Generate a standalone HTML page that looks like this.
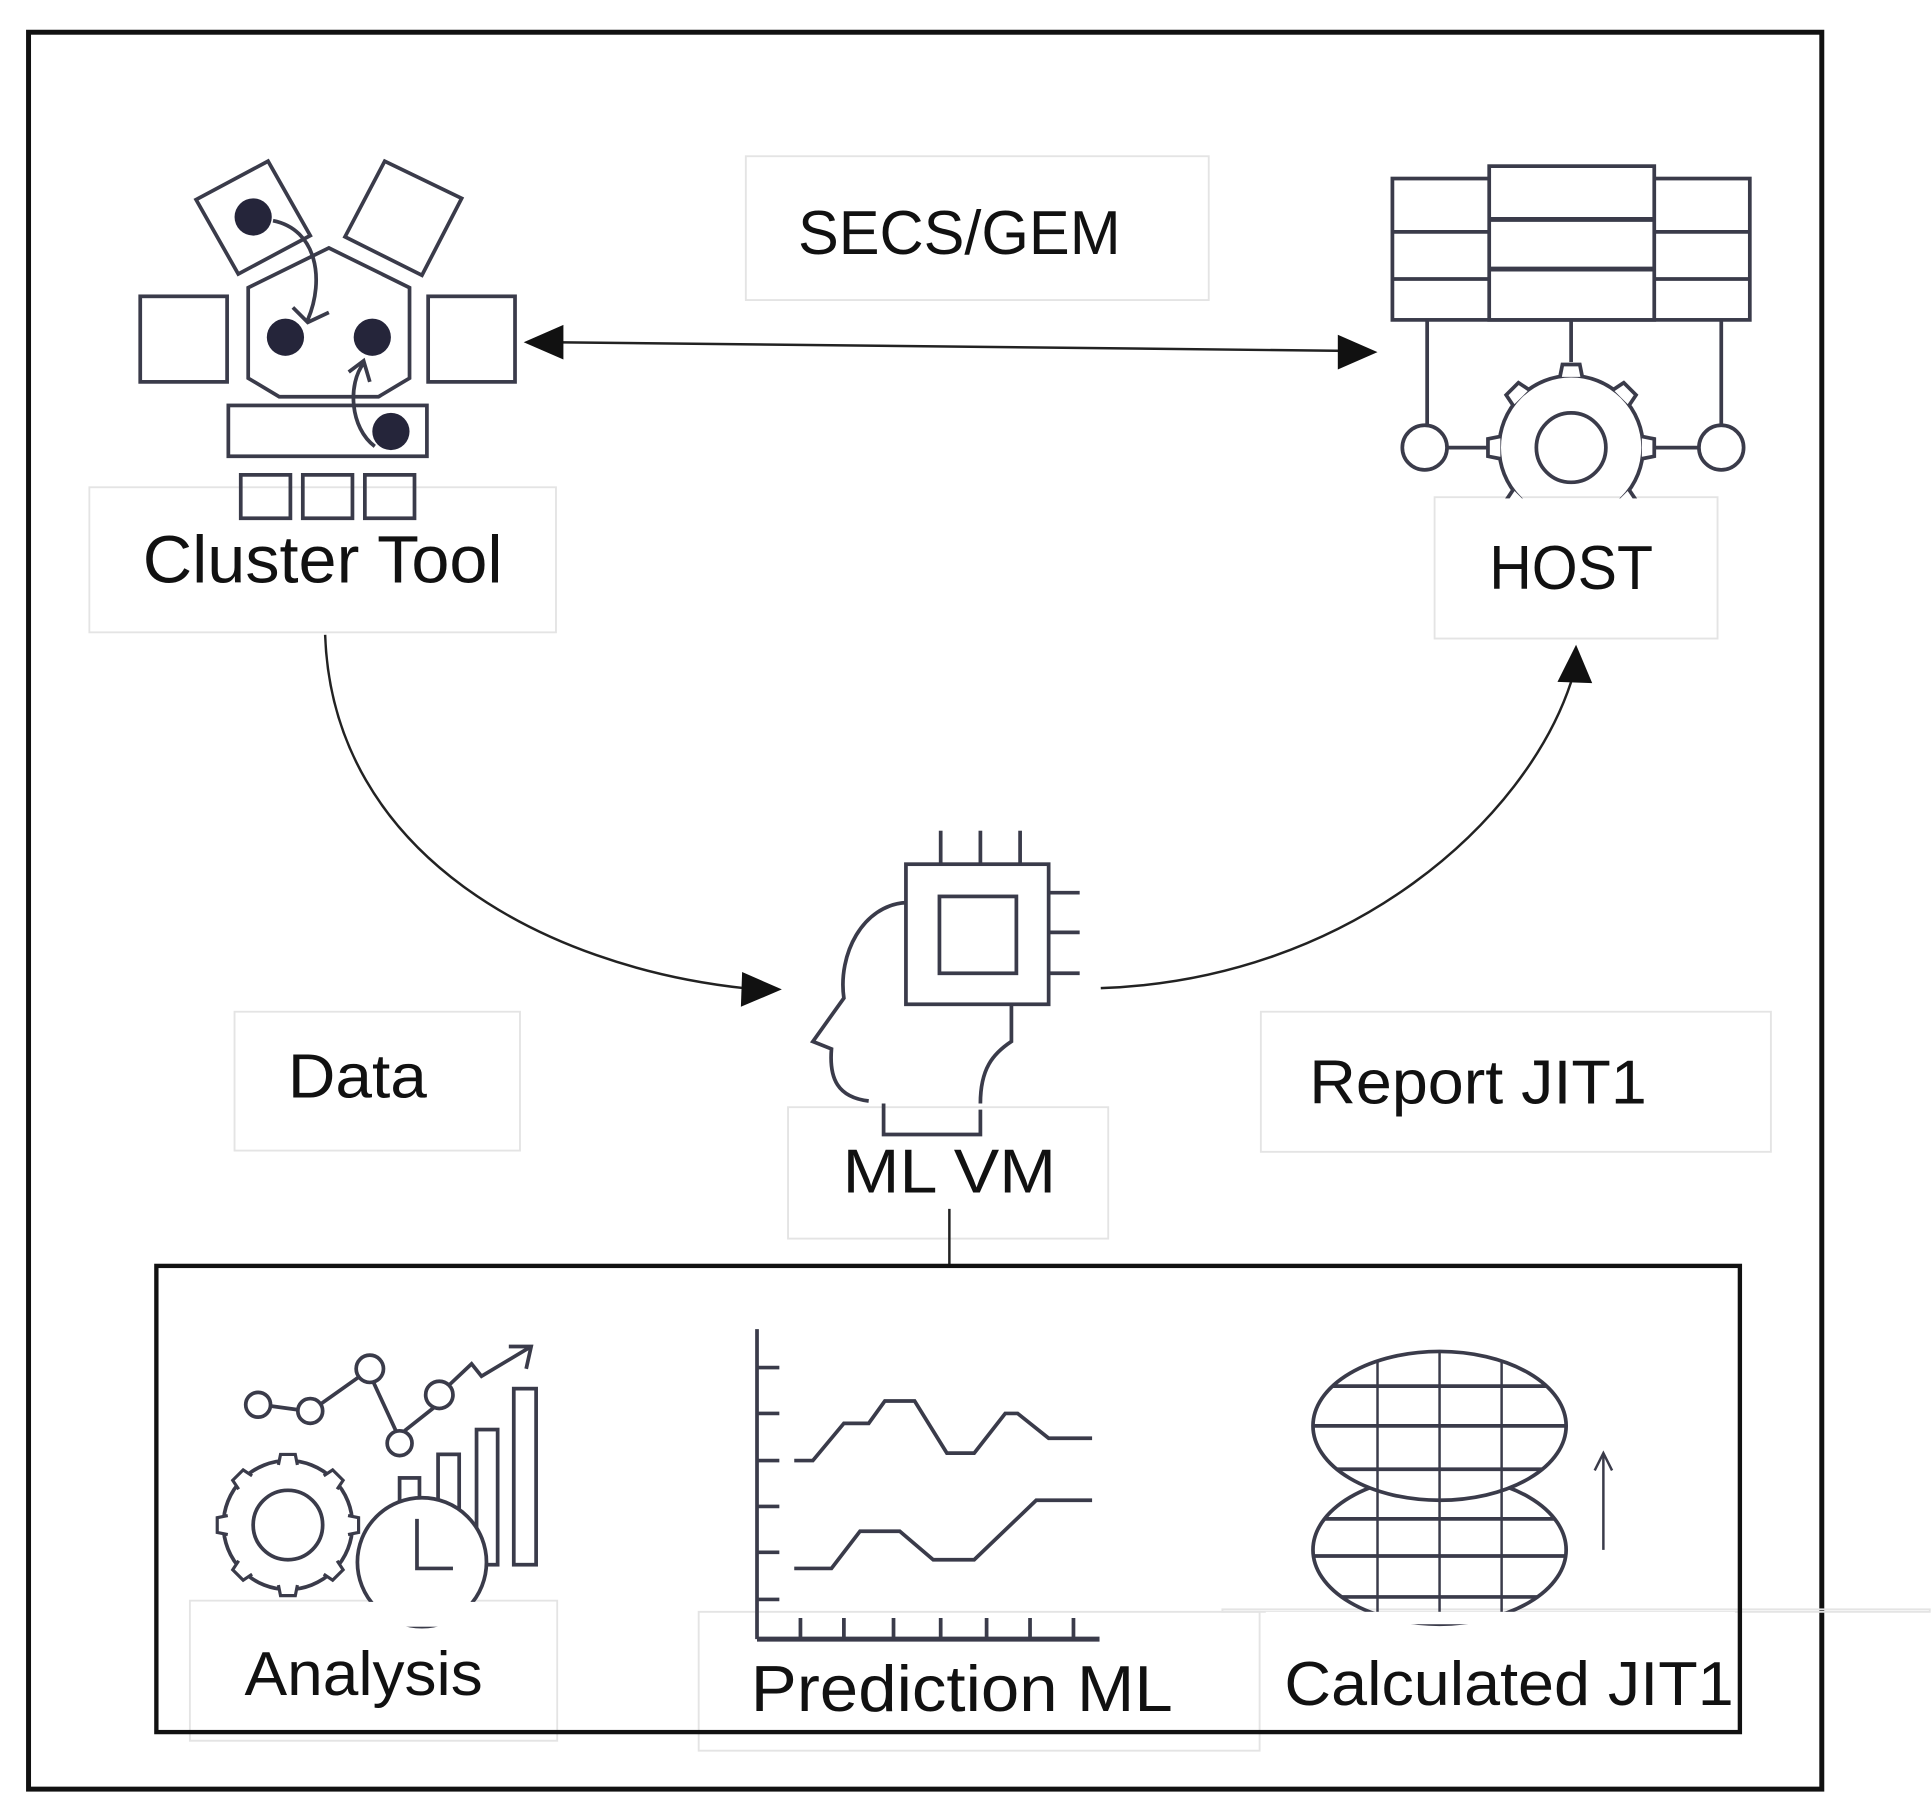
<!DOCTYPE html>
<html><head><meta charset="utf-8"><style>
html,body{margin:0;padding:0;background:#fff;}
svg{display:block}
text{font-family:"Liberation Sans",sans-serif;fill:#111;}
</style></head><body>
<svg width="1931" height="1804" viewBox="0 0 1556 1455" preserveAspectRatio="none" xmlns="http://www.w3.org/2000/svg">
<defs>
<g id="tooth"><path d="M-9,-57 L-7,-67 L7,-67 L9,-57" fill="#fff" stroke="#3a3b4a" stroke-width="3"/></g>
<clipPath id="w1"><ellipse cx="1160" cy="1150" rx="102" ry="60"/></clipPath>
<clipPath id="w2"><ellipse cx="1160" cy="1250" rx="102" ry="60"/></clipPath>
</defs>
<rect width="1556" height="1455" fill="#fff"/>
<rect x="23" y="26" width="1445" height="1417" fill="none" stroke="#111" stroke-width="4"/>
<g fill="none" stroke="#e4e4e4" stroke-width="1.5">
<rect x="72" y="393" width="376" height="117"/>
<rect x="601" y="126" width="373" height="116"/>
<rect x="1156" y="401" width="228" height="114"/>
<rect x="189" y="816" width="230" height="112"/>
<rect x="1016" y="816" width="411" height="113"/>
<rect x="635" y="893" width="258" height="106"/>
<rect x="153" y="1291" width="296" height="113"/>
<rect x="563" y="1300" width="452" height="112"/>
<rect x="985" y="1298" width="570" height="2"/>
</g>
<g fill="none" stroke="#3a3b4a" stroke-width="3">
<polygon points="158,161 216,130 250,190 192,221"/>
<polygon points="278,191 310,130 372,160 340,222"/>
<polygon points="265,200 330,232 330,305 305,320 225,320 200,305 200,232"/>
<rect x="113" y="239" width="70" height="69"/>
<rect x="345" y="239" width="70" height="69"/>
<rect x="184" y="327" width="160" height="41" fill="#fff"/>
<rect x="194" y="383" width="40" height="35"/>
<rect x="244" y="383" width="40" height="35"/>
<rect x="294" y="383" width="40" height="35"/>
<path d="M220,178 C255,185 262,225 248,258"/>
<path d="M236,248 L248,260 L265,252"/>
<path d="M302,360 C282,345 280,310 293,293"/>
<path d="M281,300 L293,291 L298,308"/>
</g>
<g fill="#25253a">
<circle cx="204" cy="175" r="15"/>
<circle cx="230" cy="272" r="15"/>
<circle cx="300" cy="272" r="15"/>
<circle cx="315" cy="348" r="15"/>
</g>
<text x="115" y="470" font-size="54" textLength="290" lengthAdjust="spacingAndGlyphs">Cluster Tool</text>
<text x="643" y="205" font-size="50" textLength="260" lengthAdjust="spacingAndGlyphs">SECS/GEM</text>
<line x1="445" y1="276" x2="1085" y2="283" stroke="#222" stroke-width="2"/>
<polygon points="422,276 454,262 454,290" fill="#111"/>
<polygon points="1110,284 1078,270 1078,298" fill="#111"/>
<g fill="none" stroke="#3a3b4a" stroke-width="3">
<rect x="1122" y="144" width="288" height="114"/>
<rect x="1200" y="134" width="133" height="124" fill="#fff"/>
<line x1="1122" y1="187" x2="1200" y2="187"/><line x1="1122" y1="225" x2="1200" y2="225"/>
<line x1="1333" y1="187" x2="1410" y2="187"/><line x1="1333" y1="225" x2="1410" y2="225"/>
<line x1="1200" y1="177" x2="1333" y2="177" stroke-width="4"/><line x1="1200" y1="217" x2="1333" y2="217" stroke-width="4"/>
<line x1="1150" y1="258" x2="1150" y2="343"/>
<line x1="1266" y1="258" x2="1266" y2="292"/>
<line x1="1387" y1="258" x2="1387" y2="343"/>
<circle cx="1148" cy="361" r="18"/>
<circle cx="1387" cy="361" r="18"/>
<line x1="1166" y1="361" x2="1200" y2="361"/>
<line x1="1333" y1="361" x2="1369" y2="361"/>
<circle cx="1266" cy="361" r="58"/>
<circle cx="1266" cy="361" r="28"/>
</g>
<g transform="translate(1266,361)">
<use href="#tooth"/><use href="#tooth" transform="rotate(45)"/><use href="#tooth" transform="rotate(90)"/><use href="#tooth" transform="rotate(135)"/>
<use href="#tooth" transform="rotate(180)"/><use href="#tooth" transform="rotate(225)"/><use href="#tooth" transform="rotate(270)"/><use href="#tooth" transform="rotate(315)"/>
</g>
<rect x="1157" y="402" width="226" height="30" fill="#fff"/>
<text x="1200" y="475" font-size="50" textLength="132" lengthAdjust="spacingAndGlyphs">HOST</text>
<path d="M262,512 C268,690 440,780 600,797" fill="none" stroke="#222" stroke-width="2"/>
<polygon points="630,798 598,784 597,812" fill="#111"/>
<path d="M887,797 C1090,790 1230,660 1266,550" fill="none" stroke="#222" stroke-width="2"/>
<polygon points="1270,520 1255,550 1283,551" fill="#111"/>
<g fill="none" stroke="#3a3b4a" stroke-width="3">
<rect x="730" y="697" width="115" height="113"/>
<rect x="757" y="723" width="62" height="62"/>
<line x1="758" y1="670" x2="758" y2="697"/><line x1="790" y1="670" x2="790" y2="697"/><line x1="822" y1="670" x2="822" y2="697"/>
<line x1="845" y1="720" x2="870" y2="720"/><line x1="845" y1="752" x2="870" y2="752"/><line x1="845" y1="785" x2="870" y2="785"/>
<path d="M730,728 C695,730 675,770 680,805 L655,840 L670,846 C668,870 675,885 700,888"/>
<path d="M815,810 L815,840 C800,850 790,862 790,890"/>
<path d="M712,890 L712,915 L790,915 L790,895"/>
</g>
<text x="679" y="962" font-size="50" textLength="172" lengthAdjust="spacingAndGlyphs">ML VM</text>
<text x="232" y="885" font-size="50" textLength="112" lengthAdjust="spacingAndGlyphs">Data</text>
<text x="1055" y="890" font-size="50" textLength="272" lengthAdjust="spacingAndGlyphs">Report JIT1</text>
<line x1="765" y1="975" x2="765" y2="1021" stroke="#222" stroke-width="2"/>
<rect x="126" y="1021" width="1276" height="376" fill="none" stroke="#111" stroke-width="3.5"/>
<g fill="none" stroke="#3a3b4a" stroke-width="3">
<path d="M218,1134 L240,1137 M259,1132 L290,1110 M301,1115 L319,1154 M326,1154 L350,1135 M362,1117 L380,1100 L388,1110 L428,1086"/>
<path d="M410,1086 L428,1086 L424,1104"/>
<circle cx="208" cy="1133" r="10"/><circle cx="250" cy="1138" r="10"/><circle cx="298" cy="1104" r="11"/><circle cx="322" cy="1164" r="10"/><circle cx="354" cy="1125" r="11"/>
<rect x="322" y="1192" width="16" height="70"/><rect x="353" y="1173" width="17" height="89"/><rect x="384" y="1153" width="17" height="109"/><rect x="414" y="1120" width="18" height="142"/>
<circle cx="232" cy="1230" r="28"/>
<circle cx="232" cy="1230" r="52"/>
</g>
<g transform="translate(232,1230) scale(0.85)">
<use href="#tooth"/><use href="#tooth" transform="rotate(45)"/><use href="#tooth" transform="rotate(90)"/><use href="#tooth" transform="rotate(135)"/>
<use href="#tooth" transform="rotate(180)"/><use href="#tooth" transform="rotate(225)"/><use href="#tooth" transform="rotate(270)"/><use href="#tooth" transform="rotate(315)"/>
</g>
<circle cx="340" cy="1260" r="52" fill="#fff" stroke="#3a3b4a" stroke-width="3"/>
<path d="M336,1225 L336,1265 L365,1265" fill="none" stroke="#3a3b4a" stroke-width="3"/>
<rect x="154" y="1292" width="294" height="20" fill="#fff"/>
<text x="197" y="1367" font-size="50" textLength="192" lengthAdjust="spacingAndGlyphs">Analysis</text>
<g fill="none" stroke="#3a3b4a" stroke-width="3">
<line x1="610" y1="1072" x2="610" y2="1322"/>
<line x1="610" y1="1322" x2="886" y2="1322" stroke-width="4"/>
<path d="M610,1103 h18 M610,1140 h18 M610,1178 h18 M610,1215 h18 M610,1252 h18 M610,1290 h18"/>
<path d="M645,1305 v17 M680,1305 v17 M720,1305 v17 M758,1305 v17 M795,1305 v17 M830,1305 v17 M865,1305 v17"/>
<polyline points="640,1178 655,1178 680,1148 700,1148 713,1130 737,1130 763,1172 785,1172 810,1140 820,1140 845,1160 880,1160"/>
<polyline points="640,1265 670,1265 693,1235 725,1235 752,1258 785,1258 835,1210 880,1210"/>
</g>
<text x="605" y="1380" font-size="52" textLength="340" lengthAdjust="spacingAndGlyphs">Prediction ML</text>
<g fill="none" stroke="#3a3b4a" stroke-width="3">
<ellipse cx="1160" cy="1250" rx="102" ry="60"/>
<g clip-path="url(#w2)">
<path d="M1110,1180 V1320 M1160,1180 V1320 M1210,1180 V1320" stroke-width="2"/>
<path d="M1050,1225 h220 M1050,1255 h220 M1050,1288 h220"/>
</g>
<ellipse cx="1160" cy="1150" rx="102" ry="60" fill="#fff"/>
<g clip-path="url(#w1)">
<path d="M1110,1080 V1220 M1160,1080 V1220 M1210,1080 V1220" stroke-width="2"/>
<path d="M1050,1118 h220 M1050,1150 h220 M1050,1185 h220"/>
</g>
<line x1="1292" y1="1172" x2="1292" y2="1250" stroke-width="2"/>
<path d="M1285,1186 L1292,1172 L1299,1186" stroke-width="2"/>
</g>
<rect x="1020" y="1300" width="378" height="10" fill="#fff"/>
<text x="1035" y="1375" font-size="50" textLength="362" lengthAdjust="spacingAndGlyphs">Calculated JIT1</text>
</svg>
</body></html>
